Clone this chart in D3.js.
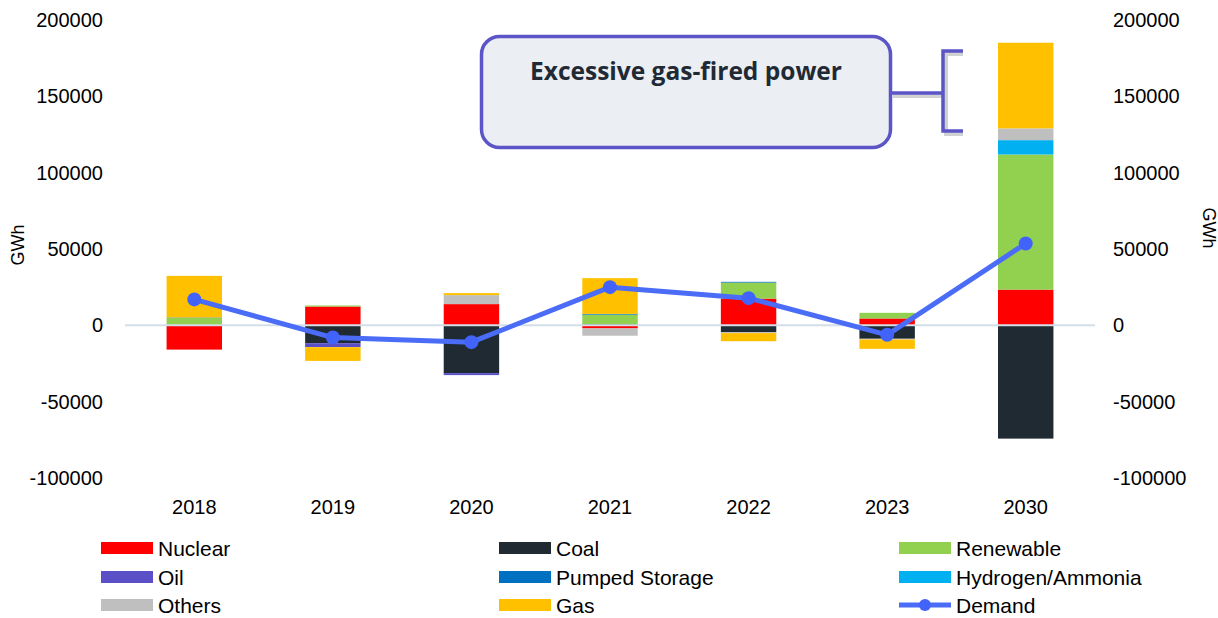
<!DOCTYPE html>
<html>
<head>
<meta charset="utf-8">
<script src="https://cdn.jsdelivr.net/npm/d3@7"></script>
<style>
  body { margin: 0; background: #fff; }
  svg { display: block; font-family: "Liberation Sans", Arial, sans-serif; }
</style>
</head>
<body>
<svg id="chart" width="1218" height="618"></svg>
<script>
// data (GWh, change vs previous year)
const years = ["2018", "2019", "2020", "2021", "2022", "2023", "2030"];
const nuclear   = [-15900, 12300, 13900, -2000, 17500, 4500, 23400];
const coal      = [0, -11700, -31300, 700, -4500, -8800, -74200];
const renewable = [4800, 700, 0, 6300, 10500, 3700, 88500];
const oil       = [0, -2600, -1300, 0, 0, 0, 0];
const pumped    = [300, 0, 0, 500, 500, 0, 0];
const hydrogen  = [0, 0, 0, 0, 0, 0, 9400];
const others    = [0, 0, 5900, -4800, -600, -500, 7700];
const gas       = [27300, -9000, 1300, 23400, -5300, -6100, 56100];
const demand    = [17000, -8000, -11000, 25000, 17800, -6200, 53600];
const yTicks    = [-100000, -50000, 0, 50000, 100000, 150000, 200000];

const series = [
  {key: "Nuclear", values: nuclear, color: "#ff0000"},
  {key: "Coal", values: coal, color: "#1f2a33"},
  {key: "Renewable", values: renewable, color: "#92d050"},
  {key: "Oil", values: oil, color: "#5b4fc8"},
  {key: "Pumped Storage", values: pumped, color: "#0070c0"},
  {key: "Hydrogen/Ammonia", values: hydrogen, color: "#00b0f0"},
  {key: "Others", values: others, color: "#bfbfbf"},
  {key: "Gas", values: gas, color: "#ffc000"}
];

const svg = d3.select("#chart");
const margin = {left: 125, right: 1095, top: 20, bottom: 478};

// table for the stack
const table = years.map((yr, i) => {
  const row = {year: yr};
  series.forEach(s => row[s.key] = s.values[i]);
  return row;
});

const x = d3.scaleBand().domain(years).range([margin.left, margin.right])
    .paddingInner(0.6).paddingOuter(0.3);
const y = d3.scaleLinear().domain([-100000, 200000]).range([margin.bottom, margin.top]);
const color = d3.scaleOrdinal().domain(series.map(s => s.key)).range(series.map(s => s.color));

const stacked = d3.stack()
    .keys(series.map(s => s.key))
    .offset(d3.stackOffsetDiverging)(table);

// bars
svg.append("g").selectAll("g")
  .data(stacked)
  .join("g")
    .attr("fill", d => color(d.key))
  .selectAll("rect")
  .data(d => d)
  .join("rect")
    .attr("x", d => x(d.data.year))
    .attr("width", x.bandwidth())
    .attr("y", d => y(Math.max(d[0], d[1])))
    .attr("height", d => Math.abs(y(d[0]) - y(d[1])));

// zero line
svg.append("line")
    .attr("x1", margin.left).attr("x2", margin.right)
    .attr("y1", y(0)).attr("y2", y(0))
    .attr("stroke", "#d3dee8")
    .attr("stroke-width", 2);

// axes (plain hyphen for negatives like the original)
const fmt = d => String(d);
const gL = svg.append("g")
    .attr("transform", "translate(" + margin.left + ",0)")
    .call(d3.axisLeft(y).tickValues(yTicks).tickSize(0).tickPadding(22).tickFormat(fmt));
const gR = svg.append("g")
    .attr("transform", "translate(" + margin.right + ",0)")
    .call(d3.axisRight(y).tickValues(yTicks).tickSize(0).tickPadding(18).tickFormat(fmt));
const gX = svg.append("g")
    .attr("transform", "translate(0," + margin.bottom + ")")
    .call(d3.axisBottom(x).tickSize(0).tickPadding(22));

[gL, gR, gX].forEach(g => {
  g.select(".domain").remove();
  g.selectAll("text")
    .attr("font-size", 20)
    .attr("font-family", "Liberation Sans, Arial, sans-serif")
    .attr("fill", "#000");
});

svg.append("text")
    .attr("transform", "translate(24,245) rotate(-90)")
    .attr("text-anchor", "middle")
    .attr("font-size", 18)
    .text("GWh");
svg.append("text")
    .attr("transform", "translate(1203,228) rotate(90)")
    .attr("text-anchor", "middle")
    .attr("font-size", 18)
    .text("GWh");

// demand line
const cx = d => x(d) + x.bandwidth() / 2;
svg.append("path")
    .datum(years)
    .attr("fill", "none")
    .attr("stroke", "#4a6cf7")
    .attr("stroke-width", 5)
    .attr("stroke-linejoin", "round")
    .attr("d", d3.line().x(d => cx(d)).y((d, i) => y(demand[i])));
svg.append("g").selectAll("circle")
  .data(years)
  .join("circle")
    .attr("cx", d => cx(d))
    .attr("cy", (d, i) => y(demand[i]))
    .attr("r", 7)
    .attr("fill", "#4263fa");

// annotation
const ann = svg.append("g");
ann.append("path")
    .attr("d", "M893,96 H945 M963,54 H946 V134 H963")
    .attr("fill", "none")
    .attr("stroke", "#999")
    .attr("stroke-width", 4)
    .attr("opacity", 0.45);
ann.append("rect")
    .attr("x", 481.5).attr("y", 36.5)
    .attr("width", 409).attr("height", 111)
    .attr("rx", 18).attr("ry", 18)
    .attr("fill", "#ebeef2")
    .attr("stroke", "#5b55c8")
    .attr("stroke-width", 3.5);
ann.append("path")
    .attr("d", "M891,93 H943 M963,51 H943 V131 H963")
    .attr("fill", "none")
    .attr("stroke", "#5b55c8")
    .attr("stroke-width", 3.5);
ann.append("text")
    .attr("x", 686).attr("y", 80)
    .attr("text-anchor", "middle")
    .attr("font-family", "'Open Sans', Lato, sans-serif")
    .attr("font-weight", "bold")
    .attr("font-size", 24.5)
    .attr("fill", "#1f2a35")
    .text("Excessive gas-fired power");

// legend
const legendItems = [
  {key: "Nuclear", col: 0, row: 0}, {key: "Coal", col: 1, row: 0}, {key: "Renewable", col: 2, row: 0},
  {key: "Oil", col: 0, row: 1}, {key: "Pumped Storage", col: 1, row: 1}, {key: "Hydrogen/Ammonia", col: 2, row: 1},
  {key: "Others", col: 0, row: 2}, {key: "Gas", col: 1, row: 2}, {key: "Demand", col: 2, row: 2}
];
const colX = [101, 499, 899], rowY = [548, 577, 605];
const lg = svg.append("g").selectAll("g")
  .data(legendItems)
  .join("g")
    .attr("transform", d => "translate(" + colX[d.col] + "," + rowY[d.row] + ")");
lg.filter(d => d.key !== "Demand").append("rect")
    .attr("x", 0).attr("y", -6)
    .attr("width", 52).attr("height", 12)
    .attr("fill", d => color(d.key));
const dl = lg.filter(d => d.key === "Demand");
dl.append("line")
    .attr("x1", 0).attr("x2", 52)
    .attr("stroke", "#4a6cf7").attr("stroke-width", 5);
dl.append("circle")
    .attr("cx", 26).attr("r", 6).attr("fill", "#4263fa");
lg.append("text")
    .attr("x", 57).attr("y", 7.5)
    .attr("font-size", 21)
    .text(d => d.key);
</script>
</body>
</html>
